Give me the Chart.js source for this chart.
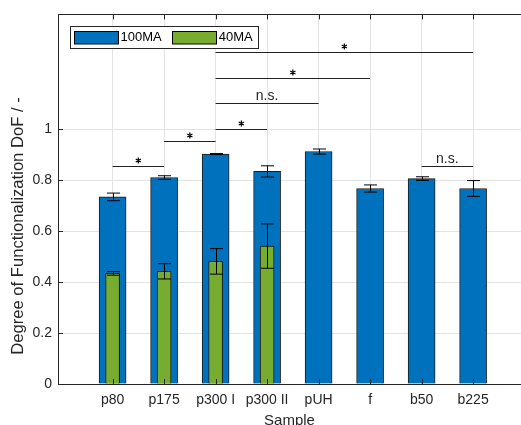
<!DOCTYPE html>
<html>
<head>
<meta charset="utf-8">
<script src="https://cdn.jsdelivr.net/npm/chart.js@4.4.1/dist/chart.umd.min.js"></script>
<style>
body { margin: 0; background: #fff; }
#wrap { width: 521px; height: 425px; }
</style>
</head>
<body>
<div id="wrap"><canvas id="dofChart" width="521" height="425"></canvas></div>
<script>
var samples = ['p80', 'p175', 'p300 I', 'p300 II', 'pUH', 'f', 'b50', 'b225'];
var dof100 = [0.734, 0.810, 0.902, 0.834, 0.912, 0.767, 0.806, 0.767];
var err100 = [0.015, 0.007, 0.002, 0.022, 0.010, 0.014, 0.007, 0.031];
var dof40 = [0.434, 0.442, 0.481, 0.541];
var err40 = [0.007, 0.030, 0.050, 0.087];
var yTicks = [0, 0.2, 0.4, 0.6, 0.8, 1];
var yTitle = 'Degree of Functionalization DoF / -';
// significance brackets: from sample, to sample, height, label
var sigFrom = [0, 1, 2, 2, 2, 2, 6];
var sigTo = [1, 2, 3, 4, 5, 7, 7];
var sigLevel = [0.854, 0.953, 1.002, 1.103, 1.202, 1.303, 0.854];
var sigLabel = ['*', '*', '*', 'n.s.', '*', '*', 'n.s.'];

var FONT = "'Liberation Sans', Arial, Helvetica, sans-serif";
var AXIS = '#262626';

function points(vals) {
    return vals.map(function(v, i) { return { x: i + 1, y: v }; });
}

var errorBars = [err100, err40];

var extras = {
    id: 'extras',
    afterDatasetsDraw: function(chart) {
        var ctx = chart.ctx;
        var xs = chart.scales.x, ys = chart.scales.y;
        var area = chart.chartArea;
        ctx.save();

        // error bars
        ctx.strokeStyle = '#000';
        ctx.lineWidth = 1;
        chart.data.datasets.forEach(function(ds, d) {
            var errs = errorBars[d];
            ds.data.forEach(function(p, i) {
                var x = Math.round(xs.getPixelForValue(p.x)) + 0.5;
                var top = ys.getPixelForValue(p.y + errs[i]);
                var bot = ys.getPixelForValue(p.y - errs[i]);
                ctx.beginPath();
                ctx.moveTo(x, top); ctx.lineTo(x, bot);
                ctx.moveTo(x - 6.5, top); ctx.lineTo(x + 6.5, top);
                ctx.moveTo(x - 6.5, bot); ctx.lineTo(x + 6.5, bot);
                ctx.stroke();
            });
        });

        // significance brackets
        ctx.font = '14px ' + FONT;
        ctx.textAlign = 'center';
        ctx.textBaseline = 'alphabetic';
        for (var k = 0; k < sigFrom.length; k++) {
            var x1 = xs.getPixelForValue(sigFrom[k] + 1);
            var x2 = xs.getPixelForValue(sigTo[k] + 1);
            var y = Math.round(ys.getPixelForValue(sigLevel[k])) + 0.5;
            ctx.strokeStyle = '#222';
            ctx.beginPath();
            ctx.moveTo(x1, y); ctx.lineTo(x2, y);
            ctx.stroke();
            var cx = (x1 + x2) / 2;
            if (sigLabel[k] === '*') {
                var cy = y - 6, r = 3;
                ctx.strokeStyle = '#000';
                ctx.lineWidth = 1.2;
                ctx.beginPath();
                for (var a = 0; a < 3; a++) {
                    var ang = Math.PI / 2 + a * Math.PI / 3;
                    ctx.moveTo(cx - r * Math.cos(ang), cy - r * Math.sin(ang));
                    ctx.lineTo(cx + r * Math.cos(ang), cy + r * Math.sin(ang));
                }
                ctx.stroke();
                ctx.lineWidth = 1;
            } else {
                ctx.fillStyle = '#262626';
                ctx.fillText(sigLabel[k], cx, y - 4);
            }
        }

        // inward tick marks and top box line
        ctx.strokeStyle = AXIS;
        ctx.lineWidth = 1;
        ctx.beginPath();
        xs.ticks.forEach(function(t) {
            var x = Math.round(xs.getPixelForValue(t.value)) + 0.5;
            ctx.moveTo(x, area.bottom); ctx.lineTo(x, area.bottom - 5);
            ctx.moveTo(x, area.top); ctx.lineTo(x, area.top + 5);
        });
        ys.ticks.forEach(function(t) {
            var y = Math.round(ys.getPixelForValue(t.value)) + 0.5;
            ctx.moveTo(area.left, y); ctx.lineTo(area.left + 5, y);
        });
        ctx.moveTo(area.left, Math.round(area.top) + 0.5);
        ctx.lineTo(area.right, Math.round(area.top) + 0.5);
        ctx.stroke();

        // legend box inside the axes
        ctx.font = '13px ' + FONT;
        ctx.textAlign = 'left';
        ctx.textBaseline = 'middle';
        var lx = area.left + 12, ly = area.top + 12, lh = 22;
        var sw = 44, sh = 12.5;
        var widths = chart.data.datasets.map(function(ds) { return ctx.measureText(ds.label).width; });
        var lw = 4 + sw + 3 + widths[0] + 10 + sw + 2 + widths[1] + 6;
        ctx.fillStyle = '#fff';
        ctx.fillRect(lx, ly, lw, lh);
        ctx.strokeStyle = AXIS;
        ctx.strokeRect(Math.round(lx) + 0.5, Math.round(ly) + 0.5, Math.round(lw), lh);
        var px = lx + 4;
        chart.data.datasets.forEach(function(ds, d) {
            ctx.fillStyle = ds.backgroundColor;
            ctx.fillRect(px, ly + 5, sw, sh);
            ctx.strokeStyle = '#000';
            ctx.strokeRect(Math.round(px) + 0.5, Math.round(ly + 5) + 0.5, sw, sh);
            ctx.fillStyle = '#000';
            ctx.fillText(ds.label, px + sw + 2.5, ly + lh / 2 + 0.5);
            px += sw + 3 + widths[d] + 10;
        });

        // y axis title, centred the way the original places it
        ctx.save();
        ctx.translate(18.5, 226);
        ctx.rotate(-Math.PI / 2);
        ctx.font = '16.6px ' + FONT;
        ctx.fillStyle = AXIS;
        ctx.textAlign = 'center';
        ctx.textBaseline = 'middle';
        ctx.fillText(yTitle, 0, 0);
        ctx.restore();

        ctx.restore();
    }
};

var ctx = document.getElementById('dofChart').getContext('2d');
var dofChart = new Chart(ctx, {
    type: 'bar',
    data: {
        datasets: [{
            label: '100MA',
            data: points(dof100),
            backgroundColor: '#0072BD',
            borderColor: '#1a1a1a',
            borderWidth: 1,
            barThickness: 27,
            grouped: false,
            order: 2
        }, {
            label: '40MA',
            data: points(dof40),
            backgroundColor: '#77AC30',
            borderColor: '#1a1a1a',
            borderWidth: 1,
            barThickness: 14,
            grouped: false,
            order: 1
        }]
    },
    options: {
        responsive: false,
        animation: false,
        layout: { padding: { top: 13, right: 0, left: 0, bottom: 0 } },
        plugins: {
            legend: { display: false },
            tooltip: { enabled: false }
        },
        scales: {
            x: {
                type: 'linear',
                offset: false,
                min: -0.06,
                max: 8.93,
                afterBuildTicks: function(scale) {
                    scale.ticks = samples.map(function(s, i) { return { value: i + 1 }; });
                },
                afterFit: function(scale) { scale.height = 41; },
                grid: { color: '#e3e3e3', drawTicks: false, offset: false },
                border: { color: AXIS },
                ticks: {
                    padding: 8,
                    color: AXIS,
                    font: { family: FONT, size: 14 },
                    callback: function(v) { return samples[v - 1]; }
                },
                title: {
                    display: true,
                    text: 'Sample',
                    color: AXIS,
                    font: { family: FONT, size: 15 },
                    padding: { top: 0, bottom: -5 }
                }
            },
            y: {
                min: 0,
                max: 1.45,
                afterBuildTicks: function(scale) {
                    scale.ticks = yTicks.map(function(v) { return { value: v }; });
                },
                afterFit: function(scale) { scale.width = 58; },
                grid: { color: '#e3e3e3', drawTicks: false },
                border: { color: AXIS },
                ticks: {
                    padding: 6,
                    color: AXIS,
                    font: { family: FONT, size: 14 },
                    callback: function(v) { return String(v); }
                },
                title: { display: false }
            }
        }
    },
    plugins: [extras]
});
</script>
</body>
</html>
